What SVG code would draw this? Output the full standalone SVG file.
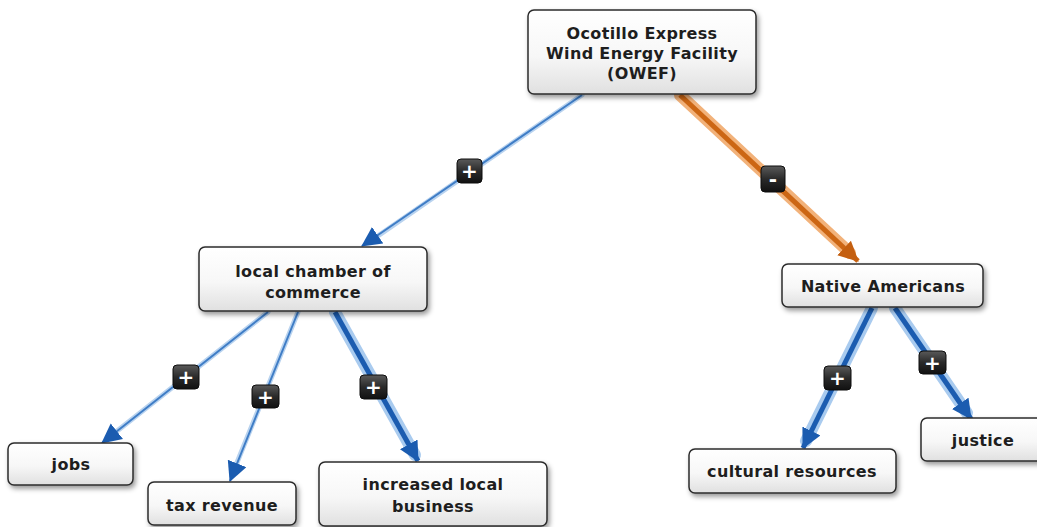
<svg xmlns="http://www.w3.org/2000/svg" width="1037" height="527" viewBox="0 0 1037 527">
<defs>
<linearGradient id="nodeFill" x1="0" y1="0" x2="0" y2="1">
<stop offset="0" stop-color="#ffffff"/>
<stop offset="0.55" stop-color="#f7f7f7"/>
<stop offset="1" stop-color="#e0e0e0"/>
</linearGradient>
<linearGradient id="badgeFill" x1="0" y1="0" x2="0" y2="1">
<stop offset="0" stop-color="#5a5a5a"/>
<stop offset="0.5" stop-color="#2a2a2a"/>
<stop offset="1" stop-color="#111111"/>
</linearGradient>
<filter id="shadow" x="-10%" y="-20%" width="125%" height="150%">
<feDropShadow dx="2" dy="3" stdDeviation="2.4" flood-color="#000" flood-opacity="0.4"/>
</filter>
<marker id="arrowBlue" markerUnits="userSpaceOnUse" markerWidth="22" markerHeight="22" refX="19" refY="10" orient="auto" viewBox="0 0 22 22">
<path d="M0,0 L20,10 L0,20 z" fill="#1b5cb0"/>
</marker>
<marker id="arrowOrange" markerUnits="userSpaceOnUse" markerWidth="22" markerHeight="22" refX="19" refY="10" orient="auto" viewBox="0 0 22 22">
<path d="M0,0 L20,10 L0,20 z" fill="#c45f10"/>
</marker>
</defs>
<style>
.node rect.box { fill: url(#nodeFill); stroke: #2b2b2b; stroke-width: 1.5; filter: url(#shadow); }
.node text { font-family: "DejaVu Sans", Verdana, sans-serif; font-weight: bold; font-size: 16px; letter-spacing: 0.35px; fill: #1e1e1e; text-anchor: middle; }
.halo-thin { stroke: #b9d3ef; stroke-width: 5; fill: none; stroke-linecap: round; }
.core-thin { stroke: #3f7dc6; stroke-width: 2; fill: none; }
.halo-thick { stroke: #a9cbef; stroke-width: 12; fill: none; stroke-linecap: round; }
.core-thick { stroke: #1b5cb0; stroke-width: 5; fill: none; }
.halo-orange { stroke: #f2b27a; stroke-width: 12; fill: none; stroke-linecap: round; }
.core-orange { stroke: #cc6614; stroke-width: 5; fill: none; }
.badge rect { fill: url(#badgeFill); stroke: #0c0c0c; stroke-width: 1; }
.badge text { font-family: "DejaVu Sans", sans-serif; font-weight: bold; font-size: 20px; fill: #ffffff; text-anchor: middle; }
</style>

<g id="connectors">
<line class="halo-thin" x1="582" y1="95" x2="372" y2="240"/>
<line class="core-thin" x1="582" y1="95" x2="362" y2="246" marker-end="url(#arrowBlue)"/>
<line class="halo-orange" x1="680" y1="95" x2="850" y2="253"/>
<line class="core-orange" x1="680" y1="95" x2="858" y2="261" marker-end="url(#arrowOrange)"/>
<line class="halo-thin" x1="268" y1="312" x2="112" y2="435"/>
<line class="core-thin" x1="268" y1="312" x2="102" y2="443" marker-end="url(#arrowBlue)"/>
<line class="halo-thin" x1="298" y1="312" x2="234" y2="470"/>
<line class="core-thin" x1="298" y1="312" x2="230" y2="481" marker-end="url(#arrowBlue)"/>
<line class="halo-thick" x1="335" y1="312" x2="415" y2="455"/>
<line class="core-thick" x1="335" y1="312" x2="418" y2="461" marker-end="url(#arrowBlue)"/>
<line class="halo-thick" x1="872" y1="308" x2="806" y2="441"/>
<line class="core-thick" x1="872" y1="308" x2="803" y2="448" marker-end="url(#arrowBlue)"/>
<line class="halo-thick" x1="895" y1="308" x2="967" y2="413"/>
<line class="core-thick" x1="895" y1="308" x2="971" y2="419" marker-end="url(#arrowBlue)"/>

<g class="badge"><rect x="457" y="159" width="25" height="24" rx="4"/><text x="469.5" y="178">+</text></g>
<g class="badge"><rect x="761" y="166" width="24" height="26" rx="4"/><text x="773" y="186">-</text></g>
<g class="badge"><rect x="173" y="365" width="26" height="24" rx="4"/><text x="186" y="384">+</text></g>
<g class="badge"><rect x="252" y="385" width="27" height="23" rx="4"/><text x="265.5" y="403.5">+</text></g>
<g class="badge"><rect x="360" y="375" width="27" height="24" rx="4"/><text x="373.5" y="394">+</text></g>
<g class="badge"><rect x="824" y="366" width="27" height="24" rx="4"/><text x="837.5" y="385">+</text></g>
<g class="badge"><rect x="919" y="351" width="27" height="23" rx="4"/><text x="932.5" y="369.5">+</text></g>
</g>

<g id="node-owef" class="node">
<rect class="box" x="528" y="10" width="228" height="84" rx="6"/>
<text x="642" y="39">Ocotillo Express</text>
<text x="642" y="59">Wind Energy Facility</text>
<text x="642" y="79">(OWEF)</text>
</g>
<g id="node-chamber" class="node">
<rect class="box" x="199" y="247" width="228" height="64" rx="6"/>
<text x="313" y="277">local chamber of</text>
<text x="313" y="298">commerce</text>
</g>
<g id="node-native" class="node">
<rect class="box" x="782" y="264" width="201" height="43" rx="6"/>
<text x="883" y="292">Native Americans</text>
</g>
<g id="node-jobs" class="node">
<rect class="box" x="8" y="443" width="125" height="42" rx="6"/>
<text x="71" y="470">jobs</text>
</g>
<g id="node-tax" class="node">
<rect class="box" x="148" y="482" width="148" height="43" rx="6"/>
<text x="222" y="511">tax revenue</text>
</g>
<g id="node-business" class="node">
<rect class="box" x="319" y="462" width="228" height="64" rx="6"/>
<text x="433" y="490">increased local</text>
<text x="433" y="512">business</text>
</g>
<g id="node-cultural" class="node">
<rect class="box" x="689" y="449" width="207" height="44" rx="6"/>
<text x="792" y="477">cultural resources</text>
</g>
<g id="node-justice" class="node">
<rect class="box" x="921" y="418" width="125" height="43" rx="6"/>
<text x="983" y="446">justice</text>
</g>
</svg>
